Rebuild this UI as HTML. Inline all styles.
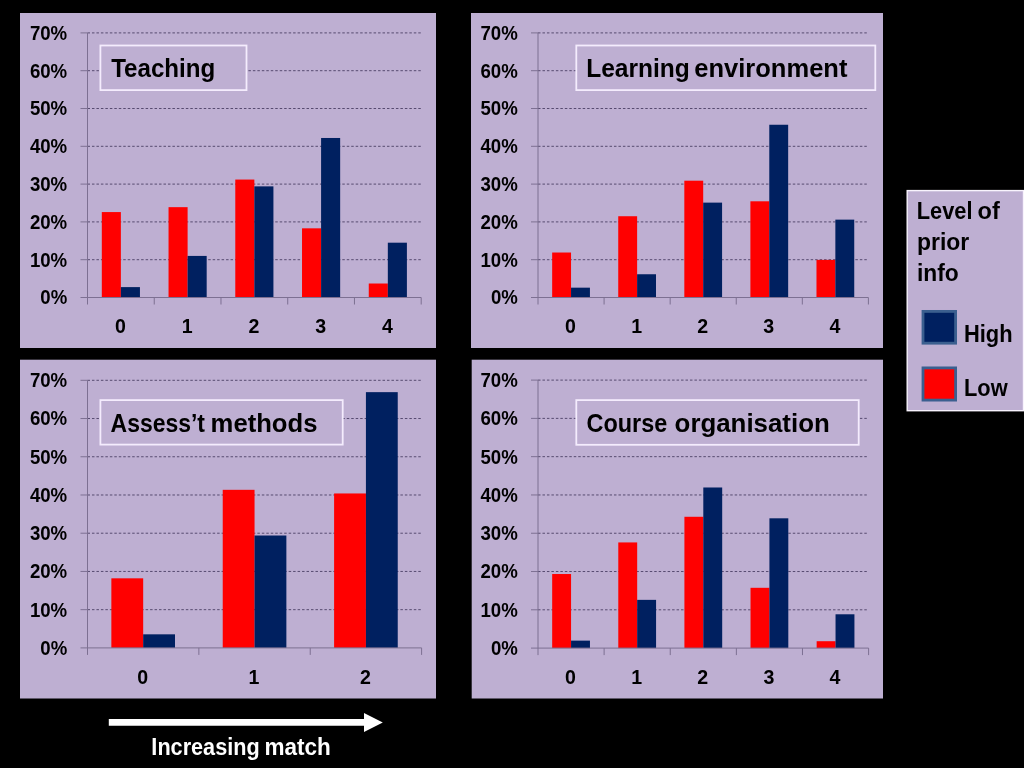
<!DOCTYPE html>
<html lang="en"><head><meta charset="utf-8"><title>Match between prior information and experience</title>
<style>html,body{margin:0;padding:0;background:#000;overflow:hidden}svg{display:block;position:absolute;left:0;top:0}text{font-family:'Liberation Sans', Arial, sans-serif;font-weight:bold;white-space:pre}</style>
</head><body>
<svg style="will-change:transform" width="1024" height="768" viewBox="0 0 1024 768">
<rect x="0" y="0" width="1024" height="768" fill="#000"/>
<g id="chart-t1">
<rect x="20" y="13" width="416" height="335" fill="#BEAFD2"/>
<line x1="87.5" y1="259.7" x2="421.2" y2="259.7" stroke="#574B70" stroke-width="1" stroke-dasharray="2.5 1.97"/>
<line x1="87.5" y1="221.9" x2="421.2" y2="221.9" stroke="#574B70" stroke-width="1" stroke-dasharray="2.5 1.97"/>
<line x1="87.5" y1="184.1" x2="421.2" y2="184.1" stroke="#574B70" stroke-width="1" stroke-dasharray="2.5 1.97"/>
<line x1="87.5" y1="146.3" x2="421.2" y2="146.3" stroke="#574B70" stroke-width="1" stroke-dasharray="2.5 1.97"/>
<line x1="87.5" y1="108.5" x2="421.2" y2="108.5" stroke="#574B70" stroke-width="1" stroke-dasharray="2.5 1.97"/>
<line x1="87.5" y1="70.7" x2="421.2" y2="70.7" stroke="#574B70" stroke-width="1" stroke-dasharray="2.5 1.97"/>
<line x1="87.5" y1="32.9" x2="421.2" y2="32.9" stroke="#574B70" stroke-width="1" stroke-dasharray="2.5 1.97"/>
<rect x="100.4" y="45.5" width="146.1" height="44.6" fill="#BEAFD2" stroke="#F4ECFD" stroke-width="1.8"/>
<text y="76.8" font-size="26.4" fill="#000"><tspan x="111.13" textLength="104.15" lengthAdjust="spacingAndGlyphs">Teaching</tspan></text>
<rect x="101.8" y="212.07" width="19.07" height="85.43" fill="#FF0000"/>
<rect x="120.87" y="287.11" width="19.07" height="10.4" fill="#002060"/>
<rect x="168.54" y="207.16" width="19.07" height="90.34" fill="#FF0000"/>
<rect x="187.61" y="255.92" width="19.07" height="41.58" fill="#002060"/>
<rect x="235.28" y="179.56" width="19.07" height="117.94" fill="#FF0000"/>
<rect x="254.35" y="186.37" width="19.07" height="111.13" fill="#002060"/>
<rect x="302.02" y="228.33" width="19.07" height="69.17" fill="#FF0000"/>
<rect x="321.09" y="137.98" width="19.07" height="159.52" fill="#002060"/>
<rect x="368.76" y="283.51" width="19.07" height="13.99" fill="#FF0000"/>
<rect x="387.83" y="242.69" width="19.07" height="54.81" fill="#002060"/>
<line x1="87.5" y1="32.9" x2="87.5" y2="304.5" stroke="#7D7092" stroke-width="1"/>
<line x1="80.5" y1="297.5" x2="421.2" y2="297.5" stroke="#7D7092" stroke-width="1"/>
<line x1="80.5" y1="259.7" x2="87.5" y2="259.7" stroke="#7D7092" stroke-width="1"/>
<line x1="80.5" y1="221.9" x2="87.5" y2="221.9" stroke="#7D7092" stroke-width="1"/>
<line x1="80.5" y1="184.1" x2="87.5" y2="184.1" stroke="#7D7092" stroke-width="1"/>
<line x1="80.5" y1="146.3" x2="87.5" y2="146.3" stroke="#7D7092" stroke-width="1"/>
<line x1="80.5" y1="108.5" x2="87.5" y2="108.5" stroke="#7D7092" stroke-width="1"/>
<line x1="80.5" y1="70.7" x2="87.5" y2="70.7" stroke="#7D7092" stroke-width="1"/>
<line x1="80.5" y1="32.9" x2="87.5" y2="32.9" stroke="#7D7092" stroke-width="1"/>
<line x1="154.24" y1="297.5" x2="154.24" y2="304.5" stroke="#7D7092" stroke-width="1"/>
<line x1="220.98" y1="297.5" x2="220.98" y2="304.5" stroke="#7D7092" stroke-width="1"/>
<line x1="287.72" y1="297.5" x2="287.72" y2="304.5" stroke="#7D7092" stroke-width="1"/>
<line x1="354.46" y1="297.5" x2="354.46" y2="304.5" stroke="#7D7092" stroke-width="1"/>
<line x1="421.2" y1="297.5" x2="421.2" y2="304.5" stroke="#7D7092" stroke-width="1"/>
<text x="67.2" y="304.4" font-size="20.1" text-anchor="end" fill="#000" textLength="26.9" lengthAdjust="spacingAndGlyphs">0%</text>
<text x="67.2" y="266.6" font-size="20.1" text-anchor="end" fill="#000" textLength="37.3" lengthAdjust="spacingAndGlyphs">10%</text>
<text x="67.2" y="228.8" font-size="20.1" text-anchor="end" fill="#000" textLength="37.3" lengthAdjust="spacingAndGlyphs">20%</text>
<text x="67.2" y="191" font-size="20.1" text-anchor="end" fill="#000" textLength="37.3" lengthAdjust="spacingAndGlyphs">30%</text>
<text x="67.2" y="153.2" font-size="20.1" text-anchor="end" fill="#000" textLength="37.3" lengthAdjust="spacingAndGlyphs">40%</text>
<text x="67.2" y="115.4" font-size="20.1" text-anchor="end" fill="#000" textLength="37.3" lengthAdjust="spacingAndGlyphs">50%</text>
<text x="67.2" y="77.6" font-size="20.1" text-anchor="end" fill="#000" textLength="37.3" lengthAdjust="spacingAndGlyphs">60%</text>
<text x="67.2" y="39.8" font-size="20.1" text-anchor="end" fill="#000" textLength="37.3" lengthAdjust="spacingAndGlyphs">70%</text>
<text x="120.37" y="332.8" font-size="20.1" text-anchor="middle" fill="#000" textLength="10.9" lengthAdjust="spacingAndGlyphs">0</text>
<text x="187.11" y="332.8" font-size="20.1" text-anchor="middle" fill="#000" textLength="10.9" lengthAdjust="spacingAndGlyphs">1</text>
<text x="253.85" y="332.8" font-size="20.1" text-anchor="middle" fill="#000" textLength="10.9" lengthAdjust="spacingAndGlyphs">2</text>
<text x="320.59" y="332.8" font-size="20.1" text-anchor="middle" fill="#000" textLength="10.9" lengthAdjust="spacingAndGlyphs">3</text>
<text x="387.33" y="332.8" font-size="20.1" text-anchor="middle" fill="#000" textLength="10.9" lengthAdjust="spacingAndGlyphs">4</text>
</g>
<g id="chart-t2">
<rect x="471" y="13" width="412" height="335" fill="#BEAFD2"/>
<line x1="538" y1="259.7" x2="868.4" y2="259.7" stroke="#574B70" stroke-width="1" stroke-dasharray="2.5 1.97"/>
<line x1="538" y1="221.9" x2="868.4" y2="221.9" stroke="#574B70" stroke-width="1" stroke-dasharray="2.5 1.97"/>
<line x1="538" y1="184.1" x2="868.4" y2="184.1" stroke="#574B70" stroke-width="1" stroke-dasharray="2.5 1.97"/>
<line x1="538" y1="146.3" x2="868.4" y2="146.3" stroke="#574B70" stroke-width="1" stroke-dasharray="2.5 1.97"/>
<line x1="538" y1="108.5" x2="868.4" y2="108.5" stroke="#574B70" stroke-width="1" stroke-dasharray="2.5 1.97"/>
<line x1="538" y1="70.7" x2="868.4" y2="70.7" stroke="#574B70" stroke-width="1" stroke-dasharray="2.5 1.97"/>
<line x1="538" y1="32.9" x2="868.4" y2="32.9" stroke="#574B70" stroke-width="1" stroke-dasharray="2.5 1.97"/>
<rect x="576.3" y="45.5" width="299" height="44.6" fill="#BEAFD2" stroke="#F4ECFD" stroke-width="1.8"/>
<text y="76.8" font-size="26.4" fill="#000"><tspan x="586.23" textLength="103.6" lengthAdjust="spacingAndGlyphs">Learning</tspan> <tspan x="694.3" textLength="153.11" lengthAdjust="spacingAndGlyphs">environment</tspan></text>
<rect x="552.16" y="252.52" width="18.88" height="44.98" fill="#FF0000"/>
<rect x="571.04" y="287.67" width="18.88" height="9.83" fill="#002060"/>
<rect x="618.24" y="216.23" width="18.88" height="81.27" fill="#FF0000"/>
<rect x="637.12" y="274.25" width="18.88" height="23.25" fill="#002060"/>
<rect x="684.32" y="180.7" width="18.88" height="116.8" fill="#FF0000"/>
<rect x="703.2" y="202.62" width="18.88" height="94.88" fill="#002060"/>
<rect x="750.4" y="201.3" width="18.88" height="96.2" fill="#FF0000"/>
<rect x="769.28" y="124.75" width="18.88" height="172.75" fill="#002060"/>
<rect x="816.48" y="259.89" width="18.88" height="37.61" fill="#FF0000"/>
<rect x="835.36" y="219.63" width="18.88" height="77.87" fill="#002060"/>
<line x1="538" y1="32.9" x2="538" y2="304.5" stroke="#7D7092" stroke-width="1"/>
<line x1="531" y1="297.5" x2="868.4" y2="297.5" stroke="#7D7092" stroke-width="1"/>
<line x1="531" y1="259.7" x2="538" y2="259.7" stroke="#7D7092" stroke-width="1"/>
<line x1="531" y1="221.9" x2="538" y2="221.9" stroke="#7D7092" stroke-width="1"/>
<line x1="531" y1="184.1" x2="538" y2="184.1" stroke="#7D7092" stroke-width="1"/>
<line x1="531" y1="146.3" x2="538" y2="146.3" stroke="#7D7092" stroke-width="1"/>
<line x1="531" y1="108.5" x2="538" y2="108.5" stroke="#7D7092" stroke-width="1"/>
<line x1="531" y1="70.7" x2="538" y2="70.7" stroke="#7D7092" stroke-width="1"/>
<line x1="531" y1="32.9" x2="538" y2="32.9" stroke="#7D7092" stroke-width="1"/>
<line x1="604.08" y1="297.5" x2="604.08" y2="304.5" stroke="#7D7092" stroke-width="1"/>
<line x1="670.16" y1="297.5" x2="670.16" y2="304.5" stroke="#7D7092" stroke-width="1"/>
<line x1="736.24" y1="297.5" x2="736.24" y2="304.5" stroke="#7D7092" stroke-width="1"/>
<line x1="802.32" y1="297.5" x2="802.32" y2="304.5" stroke="#7D7092" stroke-width="1"/>
<line x1="868.4" y1="297.5" x2="868.4" y2="304.5" stroke="#7D7092" stroke-width="1"/>
<text x="517.8" y="304.4" font-size="20.1" text-anchor="end" fill="#000" textLength="26.9" lengthAdjust="spacingAndGlyphs">0%</text>
<text x="517.8" y="266.6" font-size="20.1" text-anchor="end" fill="#000" textLength="37.3" lengthAdjust="spacingAndGlyphs">10%</text>
<text x="517.8" y="228.8" font-size="20.1" text-anchor="end" fill="#000" textLength="37.3" lengthAdjust="spacingAndGlyphs">20%</text>
<text x="517.8" y="191" font-size="20.1" text-anchor="end" fill="#000" textLength="37.3" lengthAdjust="spacingAndGlyphs">30%</text>
<text x="517.8" y="153.2" font-size="20.1" text-anchor="end" fill="#000" textLength="37.3" lengthAdjust="spacingAndGlyphs">40%</text>
<text x="517.8" y="115.4" font-size="20.1" text-anchor="end" fill="#000" textLength="37.3" lengthAdjust="spacingAndGlyphs">50%</text>
<text x="517.8" y="77.6" font-size="20.1" text-anchor="end" fill="#000" textLength="37.3" lengthAdjust="spacingAndGlyphs">60%</text>
<text x="517.8" y="39.8" font-size="20.1" text-anchor="end" fill="#000" textLength="37.3" lengthAdjust="spacingAndGlyphs">70%</text>
<text x="570.54" y="332.8" font-size="20.1" text-anchor="middle" fill="#000" textLength="10.9" lengthAdjust="spacingAndGlyphs">0</text>
<text x="636.62" y="332.8" font-size="20.1" text-anchor="middle" fill="#000" textLength="10.9" lengthAdjust="spacingAndGlyphs">1</text>
<text x="702.7" y="332.8" font-size="20.1" text-anchor="middle" fill="#000" textLength="10.9" lengthAdjust="spacingAndGlyphs">2</text>
<text x="768.78" y="332.8" font-size="20.1" text-anchor="middle" fill="#000" textLength="10.9" lengthAdjust="spacingAndGlyphs">3</text>
<text x="834.86" y="332.8" font-size="20.1" text-anchor="middle" fill="#000" textLength="10.9" lengthAdjust="spacingAndGlyphs">4</text>
</g>
<g id="chart-t3">
<rect x="20" y="359.7" width="416" height="338.8" fill="#BEAFD2"/>
<line x1="87.5" y1="609.67" x2="421.6" y2="609.67" stroke="#574B70" stroke-width="1" stroke-dasharray="2.5 1.97"/>
<line x1="87.5" y1="571.44" x2="421.6" y2="571.44" stroke="#574B70" stroke-width="1" stroke-dasharray="2.5 1.97"/>
<line x1="87.5" y1="533.21" x2="421.6" y2="533.21" stroke="#574B70" stroke-width="1" stroke-dasharray="2.5 1.97"/>
<line x1="87.5" y1="494.99" x2="421.6" y2="494.99" stroke="#574B70" stroke-width="1" stroke-dasharray="2.5 1.97"/>
<line x1="87.5" y1="456.76" x2="421.6" y2="456.76" stroke="#574B70" stroke-width="1" stroke-dasharray="2.5 1.97"/>
<line x1="87.5" y1="418.53" x2="421.6" y2="418.53" stroke="#574B70" stroke-width="1" stroke-dasharray="2.5 1.97"/>
<line x1="87.5" y1="380.3" x2="421.6" y2="380.3" stroke="#574B70" stroke-width="1" stroke-dasharray="2.5 1.97"/>
<rect x="100.4" y="400.1" width="242.3" height="44.5" fill="#BEAFD2" stroke="#F4ECFD" stroke-width="1.8"/>
<text y="431.5" font-size="26.4" fill="#000"><tspan x="110.56" textLength="94.44" lengthAdjust="spacingAndGlyphs">Assess’t</tspan> <tspan x="210.6" textLength="106.83" lengthAdjust="spacingAndGlyphs">methods</tspan></text>
<rect x="111.36" y="578.32" width="31.82" height="69.58" fill="#FF0000"/>
<rect x="143.18" y="634.33" width="31.82" height="13.57" fill="#002060"/>
<rect x="222.73" y="489.82" width="31.82" height="158.08" fill="#FF0000"/>
<rect x="254.55" y="535.51" width="31.82" height="112.39" fill="#002060"/>
<rect x="334.1" y="493.46" width="31.82" height="154.44" fill="#FF0000"/>
<rect x="365.92" y="392.15" width="31.82" height="255.75" fill="#002060"/>
<line x1="87.5" y1="380.3" x2="87.5" y2="654.9" stroke="#7D7092" stroke-width="1"/>
<line x1="80.5" y1="647.9" x2="421.6" y2="647.9" stroke="#7D7092" stroke-width="1"/>
<line x1="80.5" y1="609.67" x2="87.5" y2="609.67" stroke="#7D7092" stroke-width="1"/>
<line x1="80.5" y1="571.44" x2="87.5" y2="571.44" stroke="#7D7092" stroke-width="1"/>
<line x1="80.5" y1="533.21" x2="87.5" y2="533.21" stroke="#7D7092" stroke-width="1"/>
<line x1="80.5" y1="494.99" x2="87.5" y2="494.99" stroke="#7D7092" stroke-width="1"/>
<line x1="80.5" y1="456.76" x2="87.5" y2="456.76" stroke="#7D7092" stroke-width="1"/>
<line x1="80.5" y1="418.53" x2="87.5" y2="418.53" stroke="#7D7092" stroke-width="1"/>
<line x1="80.5" y1="380.3" x2="87.5" y2="380.3" stroke="#7D7092" stroke-width="1"/>
<line x1="198.87" y1="647.9" x2="198.87" y2="654.9" stroke="#7D7092" stroke-width="1"/>
<line x1="310.23" y1="647.9" x2="310.23" y2="654.9" stroke="#7D7092" stroke-width="1"/>
<line x1="421.6" y1="647.9" x2="421.6" y2="654.9" stroke="#7D7092" stroke-width="1"/>
<text x="67.2" y="654.8" font-size="20.1" text-anchor="end" fill="#000" textLength="26.9" lengthAdjust="spacingAndGlyphs">0%</text>
<text x="67.2" y="616.57" font-size="20.1" text-anchor="end" fill="#000" textLength="37.3" lengthAdjust="spacingAndGlyphs">10%</text>
<text x="67.2" y="578.34" font-size="20.1" text-anchor="end" fill="#000" textLength="37.3" lengthAdjust="spacingAndGlyphs">20%</text>
<text x="67.2" y="540.11" font-size="20.1" text-anchor="end" fill="#000" textLength="37.3" lengthAdjust="spacingAndGlyphs">30%</text>
<text x="67.2" y="501.89" font-size="20.1" text-anchor="end" fill="#000" textLength="37.3" lengthAdjust="spacingAndGlyphs">40%</text>
<text x="67.2" y="463.66" font-size="20.1" text-anchor="end" fill="#000" textLength="37.3" lengthAdjust="spacingAndGlyphs">50%</text>
<text x="67.2" y="425.43" font-size="20.1" text-anchor="end" fill="#000" textLength="37.3" lengthAdjust="spacingAndGlyphs">60%</text>
<text x="67.2" y="387.2" font-size="20.1" text-anchor="end" fill="#000" textLength="37.3" lengthAdjust="spacingAndGlyphs">70%</text>
<text x="142.68" y="684.4" font-size="20.1" text-anchor="middle" fill="#000" textLength="10.9" lengthAdjust="spacingAndGlyphs">0</text>
<text x="254.05" y="684.4" font-size="20.1" text-anchor="middle" fill="#000" textLength="10.9" lengthAdjust="spacingAndGlyphs">1</text>
<text x="365.42" y="684.4" font-size="20.1" text-anchor="middle" fill="#000" textLength="10.9" lengthAdjust="spacingAndGlyphs">2</text>
</g>
<g id="chart-t4">
<rect x="471.7" y="359.7" width="411.3" height="338.8" fill="#BEAFD2"/>
<line x1="538" y1="609.81" x2="868.6" y2="609.81" stroke="#574B70" stroke-width="1" stroke-dasharray="2.5 1.97"/>
<line x1="538" y1="571.53" x2="868.6" y2="571.53" stroke="#574B70" stroke-width="1" stroke-dasharray="2.5 1.97"/>
<line x1="538" y1="533.24" x2="868.6" y2="533.24" stroke="#574B70" stroke-width="1" stroke-dasharray="2.5 1.97"/>
<line x1="538" y1="494.96" x2="868.6" y2="494.96" stroke="#574B70" stroke-width="1" stroke-dasharray="2.5 1.97"/>
<line x1="538" y1="456.67" x2="868.6" y2="456.67" stroke="#574B70" stroke-width="1" stroke-dasharray="2.5 1.97"/>
<line x1="538" y1="418.39" x2="868.6" y2="418.39" stroke="#574B70" stroke-width="1" stroke-dasharray="2.5 1.97"/>
<line x1="538" y1="380.1" x2="868.6" y2="380.1" stroke="#574B70" stroke-width="1" stroke-dasharray="2.5 1.97"/>
<rect x="576.3" y="400.1" width="282.4" height="44.7" fill="#BEAFD2" stroke="#F4ECFD" stroke-width="1.8"/>
<text y="431.6" font-size="26.4" fill="#000"><tspan x="586.56" textLength="80.73" lengthAdjust="spacingAndGlyphs">Course</tspan> <tspan x="674.61" textLength="155.1" lengthAdjust="spacingAndGlyphs">organisation</tspan></text>
<rect x="552.17" y="574.02" width="18.89" height="74.08" fill="#FF0000"/>
<rect x="571.06" y="640.63" width="18.89" height="7.47" fill="#002060"/>
<rect x="618.29" y="542.43" width="18.89" height="105.67" fill="#FF0000"/>
<rect x="637.18" y="599.86" width="18.89" height="48.24" fill="#002060"/>
<rect x="684.41" y="516.78" width="18.89" height="131.32" fill="#FF0000"/>
<rect x="703.3" y="487.49" width="18.89" height="160.61" fill="#002060"/>
<rect x="750.53" y="587.8" width="18.89" height="60.3" fill="#FF0000"/>
<rect x="769.42" y="518.31" width="18.89" height="129.79" fill="#002060"/>
<rect x="816.65" y="641.21" width="18.89" height="6.89" fill="#FF0000"/>
<rect x="835.54" y="614.29" width="18.89" height="33.81" fill="#002060"/>
<line x1="538" y1="380.1" x2="538" y2="655.1" stroke="#7D7092" stroke-width="1"/>
<line x1="531" y1="648.1" x2="868.6" y2="648.1" stroke="#7D7092" stroke-width="1"/>
<line x1="531" y1="609.81" x2="538" y2="609.81" stroke="#7D7092" stroke-width="1"/>
<line x1="531" y1="571.53" x2="538" y2="571.53" stroke="#7D7092" stroke-width="1"/>
<line x1="531" y1="533.24" x2="538" y2="533.24" stroke="#7D7092" stroke-width="1"/>
<line x1="531" y1="494.96" x2="538" y2="494.96" stroke="#7D7092" stroke-width="1"/>
<line x1="531" y1="456.67" x2="538" y2="456.67" stroke="#7D7092" stroke-width="1"/>
<line x1="531" y1="418.39" x2="538" y2="418.39" stroke="#7D7092" stroke-width="1"/>
<line x1="531" y1="380.1" x2="538" y2="380.1" stroke="#7D7092" stroke-width="1"/>
<line x1="604.12" y1="648.1" x2="604.12" y2="655.1" stroke="#7D7092" stroke-width="1"/>
<line x1="670.24" y1="648.1" x2="670.24" y2="655.1" stroke="#7D7092" stroke-width="1"/>
<line x1="736.36" y1="648.1" x2="736.36" y2="655.1" stroke="#7D7092" stroke-width="1"/>
<line x1="802.48" y1="648.1" x2="802.48" y2="655.1" stroke="#7D7092" stroke-width="1"/>
<line x1="868.6" y1="648.1" x2="868.6" y2="655.1" stroke="#7D7092" stroke-width="1"/>
<text x="517.8" y="655" font-size="20.1" text-anchor="end" fill="#000" textLength="26.9" lengthAdjust="spacingAndGlyphs">0%</text>
<text x="517.8" y="616.71" font-size="20.1" text-anchor="end" fill="#000" textLength="37.3" lengthAdjust="spacingAndGlyphs">10%</text>
<text x="517.8" y="578.43" font-size="20.1" text-anchor="end" fill="#000" textLength="37.3" lengthAdjust="spacingAndGlyphs">20%</text>
<text x="517.8" y="540.14" font-size="20.1" text-anchor="end" fill="#000" textLength="37.3" lengthAdjust="spacingAndGlyphs">30%</text>
<text x="517.8" y="501.86" font-size="20.1" text-anchor="end" fill="#000" textLength="37.3" lengthAdjust="spacingAndGlyphs">40%</text>
<text x="517.8" y="463.57" font-size="20.1" text-anchor="end" fill="#000" textLength="37.3" lengthAdjust="spacingAndGlyphs">50%</text>
<text x="517.8" y="425.29" font-size="20.1" text-anchor="end" fill="#000" textLength="37.3" lengthAdjust="spacingAndGlyphs">60%</text>
<text x="517.8" y="387" font-size="20.1" text-anchor="end" fill="#000" textLength="37.3" lengthAdjust="spacingAndGlyphs">70%</text>
<text x="570.56" y="684.4" font-size="20.1" text-anchor="middle" fill="#000" textLength="10.9" lengthAdjust="spacingAndGlyphs">0</text>
<text x="636.68" y="684.4" font-size="20.1" text-anchor="middle" fill="#000" textLength="10.9" lengthAdjust="spacingAndGlyphs">1</text>
<text x="702.8" y="684.4" font-size="20.1" text-anchor="middle" fill="#000" textLength="10.9" lengthAdjust="spacingAndGlyphs">2</text>
<text x="768.92" y="684.4" font-size="20.1" text-anchor="middle" fill="#000" textLength="10.9" lengthAdjust="spacingAndGlyphs">3</text>
<text x="835.04" y="684.4" font-size="20.1" text-anchor="middle" fill="#000" textLength="10.9" lengthAdjust="spacingAndGlyphs">4</text>
</g>
<g id="legend">
<rect x="907.2" y="190.6" width="116.3" height="220.1" fill="#BEAFD2" stroke="#F8F3FD" stroke-width="1.4"/>
<text y="218.8" font-size="23" fill="#000"><tspan x="916.74" textLength="55.81" lengthAdjust="spacingAndGlyphs">Level</tspan> <tspan x="977.52" textLength="22.22" lengthAdjust="spacingAndGlyphs">of</tspan></text>
<text y="249.6" font-size="23" fill="#000"><tspan x="916.96" textLength="52.25" lengthAdjust="spacingAndGlyphs">prior</tspan></text>
<text y="280.6" font-size="23" fill="#000"><tspan x="916.95" textLength="41.79" lengthAdjust="spacingAndGlyphs">info</tspan></text>
<rect x="923" y="311.4" width="32.6" height="31.8" fill="#002060" stroke="#3B5F8F" stroke-width="2.8"/>
<text y="341.9" font-size="23" fill="#000"><tspan x="963.98" textLength="48.62" lengthAdjust="spacingAndGlyphs">High</tspan></text>
<rect x="923" y="367.9" width="32.6" height="32.2" fill="#FF0000" stroke="#3B5F8F" stroke-width="2.8"/>
<text y="396.3" font-size="23" fill="#000"><tspan x="964.03" textLength="43.67" lengthAdjust="spacingAndGlyphs">Low</tspan></text>
</g>
<g id="caption">
<path d="M108.8 719 H364 V713 L382.8 722.4 L364 731.9 V725.8 H108.8 Z" fill="#fff"/>
<text y="755.4" font-size="23" fill="#fff"><tspan x="151.37" textLength="108.32" lengthAdjust="spacingAndGlyphs">Increasing</tspan> <tspan x="264.51" textLength="66.38" lengthAdjust="spacingAndGlyphs">match</tspan></text>
</g>
</svg>
</body></html>
